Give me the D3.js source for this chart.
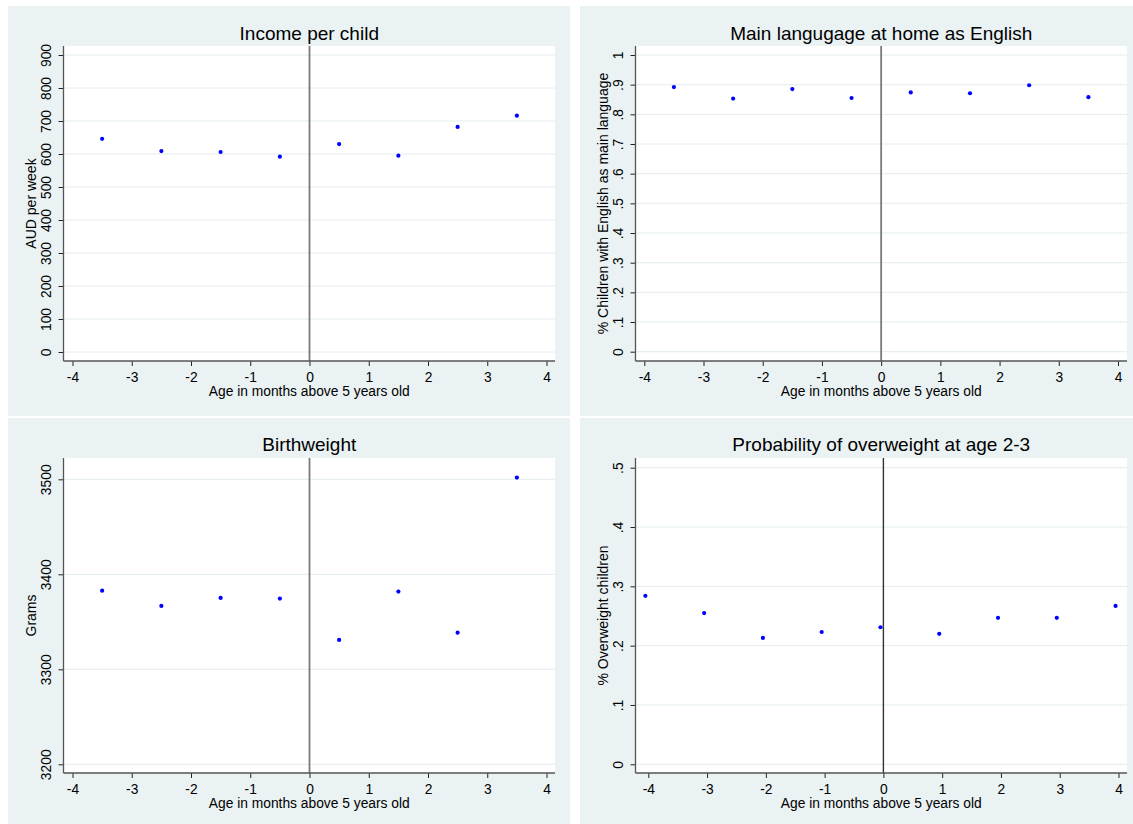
<!DOCTYPE html>
<html>
<head>
<meta charset="utf-8">
<script src="https://cdn.jsdelivr.net/npm/d3@7"></script>
<style>
  html, body { margin: 0; padding: 0; background: #ffffff; }
  svg { display: block; }
  text { font-family: Arial, "Liberation Sans", sans-serif; fill: #000; }
</style>
</head>
<body>
<svg id="chart" width="1133" height="824"></svg>
<script>
// ---------------- DATA ----------------
const xTicks = [-4, -3, -2, -1, 0, 1, 2, 3, 4];
const xTickLabels = ["-4", "-3", "-2", "-1", "0", "1", "2", "3", "4"];
const xTitle = "Age in months above 5 years old";

// Panel 1: Income per child
const incomeX = [-3.5, -2.5, -1.5, -0.5, 0.5, 1.5, 2.5, 3.5];
const incomeY = [646, 609, 606, 592, 630, 595, 682, 716];
const incomeTicks = [0, 100, 200, 300, 400, 500, 600, 700, 800, 900];
const incomeTickLabels = ["0", "100", "200", "300", "400", "500", "600", "700", "800", "900"];

// Panel 2: Main language at home as English
const englishX = [-3.5, -2.5, -1.5, -0.5, 0.5, 1.5, 2.5, 3.5];
const englishY = [0.892, 0.853, 0.885, 0.855, 0.874, 0.871, 0.898, 0.858];
const englishTicks = [0, 0.1, 0.2, 0.3, 0.4, 0.5, 0.6, 0.7, 0.8, 0.9, 1];
const englishTickLabels = ["0", ".1", ".2", ".3", ".4", ".5", ".6", ".7", ".8", ".9", "1"];

// Panel 3: Birthweight
const birthX = [-3.5, -2.5, -1.5, -0.5, 0.5, 1.5, 2.5, 3.5];
const birthY = [3382.8, 3366.7, 3375.1, 3374.4, 3330.9, 3381.8, 3338.6, 3501.8];
const birthTicks = [3200, 3300, 3400, 3500];
const birthTickLabels = ["3200", "3300", "3400", "3500"];

// Panel 4: Probability of overweight at age 2-3
const overX = [-4.05, -3.05, -2.05, -1.05, -0.05, 0.95, 1.95, 2.95, 3.95];
const overY = [0.284, 0.255, 0.213, 0.223, 0.231, 0.220, 0.247, 0.247, 0.267];
const overTicks = [0, 0.1, 0.2, 0.3, 0.4, 0.5];
const overTickLabels = ["0", ".1", ".2", ".3", ".4", ".5"];

// ---------------- LAYOUT ----------------
const BG = "#eaf2f3";
const panels = [
  { title: "Income per child", yTitle: "AUD per week",
    xs: incomeX, ys: incomeY, yTicks: incomeTicks, yLabels: incomeTickLabels,
    bg: [8, 6, 570, 416], plot: [63.5, 46, 555, 361],
    xr: [72.5, 546.5], yd: [0, 900], yr: [352, 55], titleY: 39.5,
    vColor: "#7a7a7a", vWidth: 1.8 },
  { title: "Main langugage at home as English", yTitle: "% Children with English as main language",
    xs: englishX, ys: englishY, yTicks: englishTicks, yLabels: englishTickLabels,
    bg: [580, 6, 1133, 416], plot: [635.5, 46, 1127, 361],
    xr: [644.3, 1118], yd: [0, 1], yr: [351.7, 55], titleY: 39.5,
    vColor: "#7a7a7a", vWidth: 1.8 },
  { title: "Birthweight", yTitle: "Grams",
    xs: birthX, ys: birthY, yTicks: birthTicks, yLabels: birthTickLabels,
    bg: [8, 418, 570, 824], plot: [63.5, 458, 555, 773],
    xr: [72.5, 546.5], yd: [3200, 3500], yr: [764.3, 479.3], titleY: 451,
    vColor: "#7a7a7a", vWidth: 1.8 },
  { title: "Probability of overweight at age 2-3", yTitle: "% Overweight children",
    xs: overX, ys: overY, yTicks: overTicks, yLabels: overTickLabels,
    bg: [580, 418, 1133, 824], plot: [635.5, 458, 1127, 773],
    xr: [648.3, 1118.5], yd: [0, 0.5], yr: [764.3, 467.7], titleY: 451,
    vColor: "#333333", vWidth: 1.4 }
];

const svg = d3.select("#chart");

panels.forEach(p => {
  const g = svg.append("g");
  const [bx0, by0, bx1, by1] = p.bg;
  const [px0, py0, px1, py1] = p.plot;

  g.append("rect").attr("x", bx0).attr("y", by0)
    .attr("width", bx1 - bx0).attr("height", by1 - by0).attr("fill", BG);
  g.append("rect").attr("x", px0).attr("y", py0)
    .attr("width", px1 - px0).attr("height", py1 - py0).attr("fill", "#ffffff");

  const x = d3.scaleLinear().domain([-4, 4]).range(p.xr);
  const y = d3.scaleLinear().domain(p.yd).range(p.yr);

  // gridlines
  g.append("g").selectAll("line").data(p.yTicks).join("line")
    .attr("x1", px0).attr("x2", px1)
    .attr("y1", d => y(d)).attr("y2", d => y(d))
    .attr("stroke", "#e3ecee").attr("stroke-width", 1);

  // vertical line at 0
  g.append("line")
    .attr("x1", x(0)).attr("x2", x(0)).attr("y1", py0).attr("y2", py1)
    .attr("stroke", p.vColor).attr("stroke-width", p.vWidth);

  // x axis
  const xa = g.append("g").attr("transform", `translate(0,${py1})`)
    .call(d3.axisBottom(x).tickValues(xTicks)
      .tickFormat((d, i) => xTickLabels[i]).tickSize(5).tickSizeOuter(0).tickPadding(6));
  xa.select(".domain").remove();
  xa.append("line").attr("x1", px0).attr("x2", px1).attr("y1", 0).attr("y2", 0)
    .attr("stroke", "#555").attr("stroke-width", 1.3);
  xa.selectAll(".tick line").attr("stroke", "#222").attr("stroke-width", 1);
  xa.selectAll(".tick text").attr("font-size", "13.8px").attr("fill", "#000")
    .attr("font-family", "Arial, 'Liberation Sans', sans-serif");

  // y axis
  const ya = g.append("g").attr("transform", `translate(${px0},0)`)
    .call(d3.axisLeft(y).tickValues(p.yTicks)
      .tickFormat((d, i) => p.yLabels[i]).tickSize(5).tickSizeOuter(0));
  ya.select(".domain").remove();
  ya.append("line").attr("x1", 0).attr("x2", 0).attr("y1", py0).attr("y2", py1)
    .attr("stroke", "#555").attr("stroke-width", 1.3);
  ya.selectAll(".tick line").attr("stroke", "#222").attr("stroke-width", 1);
  ya.selectAll(".tick text")
    .attr("x", null).attr("dy", "0.35em")
    .attr("text-anchor", "middle")
    .attr("transform", "translate(-17,0) rotate(-90)")
    .attr("font-size", "13.8px").attr("fill", "#000")
    .attr("font-family", "Arial, 'Liberation Sans', sans-serif");

  // titles
  g.append("text").attr("x", (px0 + px1) / 2).attr("y", p.titleY)
    .attr("text-anchor", "middle").attr("font-size", "19px").text(p.title);
  g.append("text").attr("x", (px0 + px1) / 2).attr("y", py1 + 35)
    .attr("text-anchor", "middle").attr("font-size", "13.8px").text(xTitle);
  g.append("text")
    .attr("transform", `translate(${px0 - 32.5},${(py0 + py1) / 2}) rotate(-90)`)
    .attr("dy", "0.35em")
    .attr("text-anchor", "middle").attr("font-size", "14px").text(p.yTitle);

  // points
  g.append("g").selectAll("circle").data(p.xs.map((d, i) => [d, p.ys[i]])).join("circle")
    .attr("cx", d => x(d[0])).attr("cy", d => y(d[1])).attr("r", 2.1)
    .attr("fill", "#0000ff");
});
</script>
</body>
</html>
